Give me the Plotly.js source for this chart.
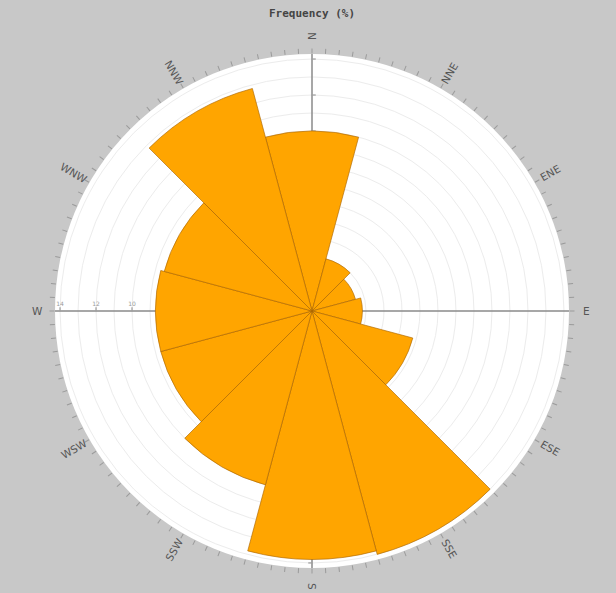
<!DOCTYPE html>
<html>
<head>
<meta charset="utf-8">
<script src="https://cdn.plot.ly/plotly-3.0.1.min.js"></script>
<style>
  html, body { margin: 0; padding: 0; background: #c8c8c8; }
  #chart { width: 616px; height: 593px; }
</style>
</head>
<body>
<div id="chart"></div>
<script>
// ---- data ----
const directions = ['N', 'NNE', 'ENE', 'E', 'ESE', 'SSE', 'S', 'SSW', 'WSW', 'W', 'WNW', 'NNW'];
const directionAngles = [0, 30, 60, 90, 120, 150, 180, 210, 240, 270, 300, 330];
const frequency = [10.0, 3.0, 2.5, 2.8, 5.8, 14.0, 13.8, 10.0, 8.7, 8.7, 8.5, 12.8];
const radialRange = [0, 14.28];

// ---- layout geometry ----
const W = 616, H = 593;
const margin = { l: 55, r: 47, t: 54, b: 25, pad: 0 };
const plotW = W - margin.l - margin.r;   // 514
const plotH = H - margin.t - margin.b;   // 514
const labelR = 275;                      // px from centre

// minor angular ticks
const angTicks = [];
for (let a = 0; a < 360; a += 3) angTicks.push(a);

const bars = {
  type: 'barpolar',
  r: frequency,
  theta: directionAngles,
  width: directionAngles.map(() => 30),
  marker: { color: '#FFA500', line: { color: 'rgba(170,100,0,0.8)', width: 0.8 } },
  hoverinfo: 'skip',
  subplot: 'polar5'
};

function axisPolar(angle, showLabels, base) {
  return {
    domain: { x: [0, 1], y: [0, 1] },
    bgcolor: base ? '#ffffff' : 'rgba(0,0,0,0)',
    angularaxis: base ? {
      rotation: 90, direction: 'clockwise', showgrid: false, showline: false,
      tickmode: 'array', tickvals: angTicks, ticks: 'outside', ticklen: 5,
      tickcolor: '#9a9a9a', tickwidth: 1, showticklabels: false
    } : { visible: false, rotation: 90, direction: 'clockwise' },
    radialaxis: {
      range: radialRange, angle: angle,
      showgrid: base, gridcolor: '#ececec', gridwidth: 1,
      showline: true, linecolor: '#8a8a8a', linewidth: 1.5,
      ticks: base ? '' : 'outside', ticklen: 3, tickcolor: '#8a8a8a',
      dtick: base ? 1 : 2, tick0: 0, showticklabels: showLabels,
      side: 'clockwise', tickangle: 180,
      tickfont: { size: 6, color: '#9a9a9a', family: 'DejaVu Sans' }
    }
  };
}

// direction labels as rotated annotations
const annotations = directions.map((d, i) => {
  const deg = directionAngles[i];
  const b = deg * Math.PI / 180;
  const ang = deg <= 180 ? deg - 90 : deg - 270;
  return {
    text: d, showarrow: false, xref: 'paper', yref: 'paper',
    x: 0.5 + labelR * Math.sin(b) / plotW,
    y: 0.5 + labelR * Math.cos(b) / plotH,
    xanchor: 'center', yanchor: 'middle', textangle: ang,
    font: { family: 'DejaVu Sans', size: 10.5, color: '#555555' }
  };
});

const layout = {
  width: W, height: H,
  margin: margin,
  paper_bgcolor: '#c8c8c8',
  showlegend: false,
  title: {
    text: 'Frequency (%)', x: 0.5, xref: 'paper', y: 1 - 13 / H, yanchor: 'middle',
    font: { family: 'DejaVu Sans Mono', size: 11, color: '#444444', weight: 'bold' }
  },
  polar: axisPolar(0, false, true),
  polar2: axisPolar(90, false, false),
  polar3: axisPolar(180, true, false),
  polar4: axisPolar(270, false, false),
  polar5: {
    domain: { x: [0, 1], y: [0, 1] },
    bgcolor: 'rgba(0,0,0,0)',
    angularaxis: { visible: false, rotation: 90, direction: 'clockwise' },
    radialaxis: { visible: false, range: radialRange }
  },
  annotations: annotations
};

const dummy = (sp) => ({ type: 'scatterpolar', r: [], theta: [], subplot: sp, hoverinfo: 'skip' });

Plotly.newPlot('chart', [dummy('polar'), dummy('polar2'), dummy('polar3'), dummy('polar4'), bars], layout, { staticPlot: true });
</script>
</body>
</html>
